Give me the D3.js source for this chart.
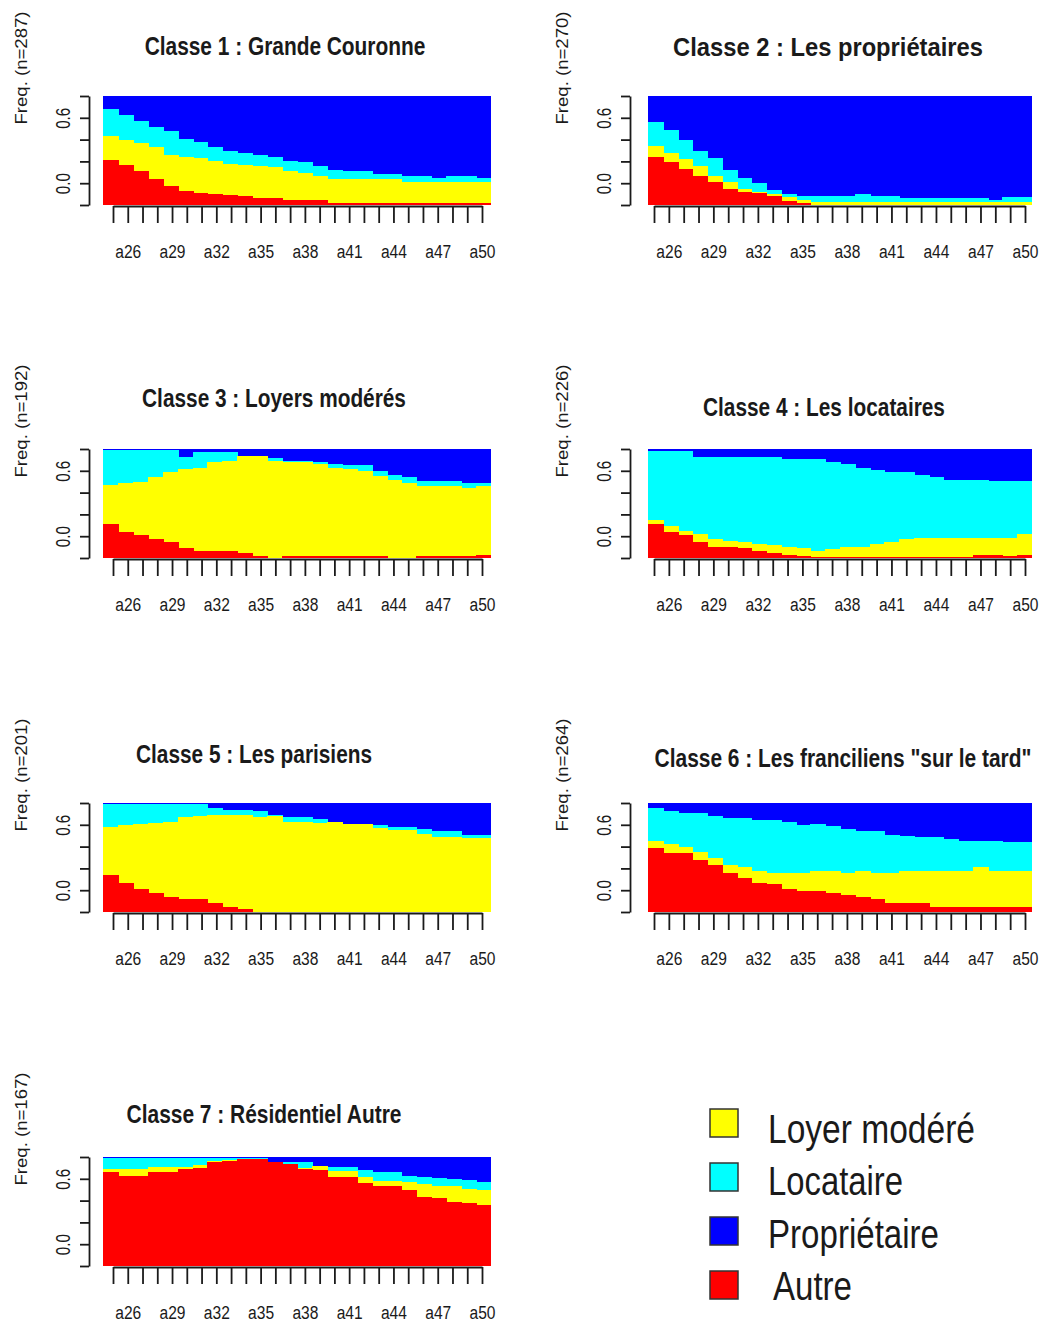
<!DOCTYPE html>
<html>
<head>
<meta charset="utf-8">
<script src="https://cdn.jsdelivr.net/npm/d3@7"></script>
<style>
  body { margin: 0; background: #fff; }
  text { font-family: "Liberation Sans", Arial, sans-serif; fill: #1a1a1a; }
  .axis path, .axis line { stroke: #1a1a1a; stroke-width: 1.8; }
  rect.bar { shape-rendering: crispEdges; }
</style>
</head>
<body>
<div id="chart"></div>
<script>
// Sizes of the page
var svgWidth = 1043;
var svgHeight = 1323;
var plotHeight = 109;

// Time points (ages) and the labels R kept on the axis
var ages = ["a25", "a26", "a27", "a28", "a29", "a30", "a31", "a32", "a33", "a34", "a35", "a36", "a37",
            "a38", "a39", "a40", "a41", "a42", "a43", "a44", "a45", "a46", "a47", "a48", "a49", "a50"];
var shownAges = ["a26", "a29", "a32", "a35", "a38", "a41", "a44", "a47", "a50"];

// States, bottom to top of the stack
var states = ["Autre", "Loyer modéré", "Locataire", "Propriétaire"];
var stateColors = ["#ff0000", "#ffff00", "#00ffff", "#0000ff"];
var legendOrder = ["Loyer modéré", "Locataire", "Propriétaire", "Autre"];

var classTitles = ["Classe 1 : Grande Couronne", "Classe 2 : Les propriétaires",
                   "Classe 3 : Loyers modérés", "Classe 4 : Les locataires",
                   "Classe 5 : Les parisiens", "Classe 6 : Les franciliens \"sur le tard\"",
                   "Classe 7 : Résidentiel Autre"];
var classSizes = [287, 270, 192, 226, 201, 264, 167];

// y axis ticks and the two labels drawn by R
var yTicks = [0, 0.2, 0.4, 0.6, 0.8, 1];
var yTickText = ["", "0.0", "", "", "0.6", ""];

// Share of each state (%) per age, one set per class
var autre1 = [41,37,31,24,17,13,11,10,9,8,6,6,5,5,5,2,2,2,2,2,2,2,2,2,2,2];
var loyer1 = [22,23,26,29,29,31,32,30,29,29,30,29,26,24,22,22,22,22,22,22,19,19,19,19,19,19];
var locat1 = [25,23,20,19,22,17,15,13,12,11,10,9,9,10,9,8,7,7,4,4,6,6,4,6,6,4];
var propr1 = [12,17,23,28,32,39,42,47,50,52,54,56,60,61,64,68,69,69,72,72,73,73,75,73,73,75];

var autre2 = [44,39,33,27,21,15,12,11,8,4,2,0,0,0,0,0,0,0,0,0,0,0,0,0,0,0];
var loyer2 = [10,9,9,9,6,6,3,1,2,3,3,3,3,3,3,3,3,3,3,3,3,3,3,3,3,3];
var locat2 = [22,21,18,14,16,11,10,8,4,3,3,5,5,5,7,5,5,3,3,3,3,3,3,2,4,4];
var propr2 = [24,31,40,50,57,68,75,80,86,90,92,92,92,92,90,92,92,94,94,94,94,94,94,95,93,93];

var autre3 = [31,24,21,17,15,9,6,6,6,5,2,0,2,2,2,2,2,2,2,0,0,2,2,2,2,3];
var loyer3 = [36,45,49,57,64,73,77,82,83,89,92,89,86,86,84,81,80,78,73,72,69,64,64,64,62,63];
var locat3 = [32,30,29,25,20,11,14,9,8,0,0,3,1,1,2,3,3,5,5,4,5,5,5,5,5,3];
var propr3 = [1,1,1,1,1,7,3,3,3,6,6,8,11,11,12,14,15,15,20,24,26,29,29,29,31,31];

var autre4 = [31,24,21,15,10,10,9,6,5,3,2,1,1,1,1,1,1,1,1,1,1,1,3,3,2,3];
var loyer4 = [4,5,4,7,7,6,6,7,7,7,7,5,7,9,9,12,14,16,17,17,17,17,15,15,16,19];
var locat4 = [63,69,73,71,76,77,78,80,81,81,82,85,80,76,73,68,64,62,58,56,54,54,54,53,53,49];
var propr4 = [2,2,2,7,7,7,7,7,7,9,9,9,12,14,17,19,21,21,24,26,28,28,28,29,29,29];

var autre5 = [34,27,21,17,14,12,12,8,5,3,0,0,0,0,0,0,0,0,0,0,0,0,0,0,0,0];
var loyer5 = [44,53,60,65,69,75,76,81,84,86,87,88,83,83,82,83,81,81,77,75,75,72,69,69,68,68];
var locat5 = [21,19,18,17,16,12,11,6,5,5,6,1,4,4,3,0,0,0,3,3,3,4,5,5,3,3];
var propr5 = [1,1,1,1,1,1,1,5,6,6,7,11,13,13,15,17,19,19,20,22,22,24,26,26,29,29];

var autre6 = [59,54,54,48,43,36,31,27,26,21,19,19,17,16,14,12,8,8,8,5,5,5,5,5,5,5];
var loyer6 = [6,8,6,7,7,7,10,11,10,15,17,19,21,20,24,24,28,30,30,33,33,33,36,33,33,33];
var locat6 = [30,31,31,36,38,43,45,46,48,47,44,43,41,40,36,38,35,32,31,31,29,27,24,27,26,26];
var propr6 = [5,7,9,9,12,14,14,16,16,17,20,19,21,24,26,26,29,30,31,31,33,35,35,35,36,36];

var autre7 = [86,83,83,86,86,89,90,95,96,98,98,95,94,89,88,82,82,76,73,73,70,63,62,59,58,56];
var loyer7 = [3,6,6,5,5,2,3,1,1,0,0,0,0,1,4,5,5,6,5,5,7,12,11,14,13,14];
var locat7 = [10,10,10,8,8,8,6,3,2,1,1,0,1,5,0,4,4,6,8,8,6,7,8,7,8,7];
var propr7 = [1,1,1,1,1,1,1,1,1,1,1,5,5,5,8,9,9,12,14,14,17,18,19,20,21,23];

var autreAll = [autre1, autre2, autre3, autre4, autre5, autre6, autre7];
var loyerAll = [loyer1, loyer2, loyer3, loyer4, loyer5, loyer6, loyer7];
var locatAll = [locat1, locat2, locat3, locat4, locat5, locat6, locat7];
var proprAll = [propr1, propr2, propr3, propr4, propr5, propr6, propr7];

// Layout of the 2 columns x 4 rows grid
var columns = [
  { axis: 89, x0: 103, x1: 491, tick0: 113, tick1: 482 },
  { axis: 630, x0: 648, x1: 1032, tick0: 654, tick1: 1025 }
];
var rowTops = [96, 449, 803, 1157];
// title centre x, baseline y, width
var titlePos = [[285, 55, 281], [828, 56, 310], [274, 407, 264], [824, 416, 242],
                [254, 763, 236], [843, 767, 377], [264, 1123, 275]];

var svg = d3.select("#chart")
  .append("svg")
  .attr("width", svgWidth)
  .attr("height", svgHeight);

classTitles.forEach(function(title, i) {
  var col = columns[i % 2];
  var top = rowTops[Math.floor(i / 2)];
  var bottom = top + plotHeight;

  var rows = ages.map(function(a, j) {
    var r = { age: a };
    r["Autre"] = autreAll[i][j] / 100;
    r["Loyer modéré"] = loyerAll[i][j] / 100;
    r["Locataire"] = locatAll[i][j] / 100;
    r["Propriétaire"] = proprAll[i][j] / 100;
    return r;
  });
  var series = d3.stack().keys(states)(rows);

  var xBand = d3.scaleBand().domain(ages).range([col.x0, col.x1]);
  var yScale = d3.scaleLinear().domain([0, 1]).range([bottom, top]);

  var panel = svg.append("g");

  // draw top state first, each bar reaching the baseline -> no seams
  panel.selectAll("g.layer")
    .data(series.slice().reverse())
    .enter()
    .append("g")
    .attr("fill", d => stateColors[d.index])
    .selectAll("rect")
    .data(d => d)
    .enter()
    .append("rect")
    .attr("class", "bar")
    .attr("x", d => xBand(d.data.age))
    .attr("y", d => yScale(d[1]))
    .attr("width", d => Math.min(col.x1, xBand(d.data.age) + xBand.bandwidth() + 1) - xBand(d.data.age))
    .attr("height", d => Math.max(0, bottom - yScale(d[1])));

  // x axis
  var xPoint = d3.scalePoint().domain(ages).range([col.tick0, col.tick1]);
  var xAxis = d3.axisBottom(xPoint)
    .tickSize(17)
    .tickSizeOuter(0)
    .tickPadding(22)
    .tickFormat(d => shownAges.indexOf(d) >= 0 ? d : "");
  var xg = panel.append("g")
    .attr("class", "axis")
    .attr("transform", `translate(0, ${bottom + 1})`)
    .call(xAxis);
  xg.selectAll("text")
    .attr("font-size", 18)
    .attr("font-family", null)
    .filter(d => shownAges.indexOf(d) >= 0)
    .attr("textLength", 26)
    .attr("lengthAdjust", "spacingAndGlyphs");

  // y axis
  var yAxis = d3.axisLeft(yScale)
    .tickValues(yTicks)
    .tickSize(9)
    .tickSizeOuter(0)
    .tickFormat((d, k) => yTickText[k]);
  var yg = panel.append("g")
    .attr("class", "axis")
    .attr("transform", `translate(${col.axis}, 0)`)
    .call(yAxis);
  yg.selectAll("text")
    .attr("x", null)
    .attr("dy", null)
    .attr("font-family", null)
    .attr("font-size", 20)
    .attr("text-anchor", "middle")
    .attr("transform", "translate(-19, 0) rotate(-90)")
    .filter((d, k) => yTickText[k] !== "")
    .attr("textLength", 21)
    .attr("lengthAdjust", "spacingAndGlyphs");

  // y title
  var lx = col.axis - 62;
  var ly = top - 28;
  panel.append("text")
    .attr("transform", `translate(${lx}, ${ly}) rotate(-90)`)
    .attr("text-anchor", "middle")
    .attr("font-size", 16)
    .attr("textLength", 113)
    .attr("lengthAdjust", "spacingAndGlyphs")
    .text("Freq. (n=" + classSizes[i] + ")");

  // main title, squeezed horizontally to the narrow look of the original
  var tp = titlePos[i];
  var titleText = panel.append("text")
    .attr("text-anchor", "middle")
    .attr("font-size", 25)
    .attr("font-weight", "bold")
    .text(title);
  var natural = titleText.node().getComputedTextLength();
  titleText.attr("transform", `translate(${tp[0]}, ${tp[1]}) scale(${tp[2] / natural}, 1)`);
});

// Legend
var legendWidths = [207, 135, 171, 79];
var legend = svg.append("g");
legendOrder.forEach(function(name, k) {
  legend.append("rect")
    .attr("x", 710)
    .attr("y", 1109 + k * 54)
    .attr("width", 28)
    .attr("height", 28)
    .attr("fill", stateColors[states.indexOf(name)])
    .attr("stroke", "#333")
    .attr("stroke-width", 1.5);
  legend.append("text")
    .attr("x", name === "Autre" ? 773 : 768)
    .attr("y", 1143 + k * 52.3)
    .attr("font-size", 40)
    .attr("textLength", legendWidths[k])
    .attr("lengthAdjust", "spacingAndGlyphs")
    .text(name);
});
</script>
</body>
</html>
